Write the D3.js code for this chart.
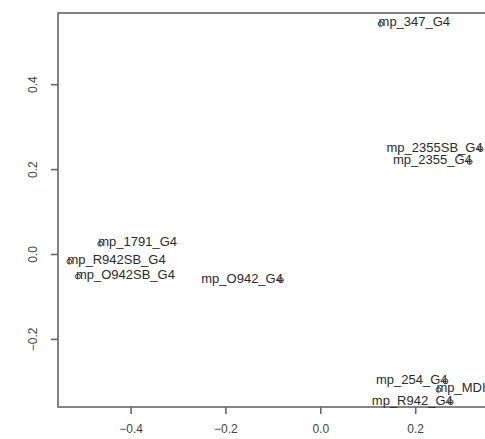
<!DOCTYPE html>
<html>
<head>
<meta charset="utf-8">
<script src="https://cdn.jsdelivr.net/npm/d3@7"></script>
<style>
  html, body { margin: 0; padding: 0; background: #fff; }
  svg { display: block; }
  text { font-family: "Liberation Sans", Arial, sans-serif; }
</style>
</head>
<body>
<script>
// Sample scores on the first two ordination axes
const samples = ["mp_347_G4", "mp_2355SB_G4", "mp_2355_G4", "mp_1791_G4", "mp_R942SB_G4",
                 "mp_O942SB_G4", "mp_O942_G4", "mp_254_G4", "mp_MDI_G4", "mp_R942_G4"];
const axis1 = [0.127, 0.338, 0.315, -0.464, -0.529, -0.511, -0.083, 0.264, 0.249, 0.275];
const axis2 = [0.542, 0.247, 0.217, 0.024, -0.018, -0.053, -0.062, -0.300, -0.320, -0.349];
// which side of its point each label sits on
const labelSide = ["right", "left", "left", "right", "right", "right", "left", "left", "right", "left"];

const xTicks = [-0.4, -0.2, 0.0, 0.2];
const yTicks = [-0.2, 0.0, 0.2, 0.4];
const xDomain = [-0.553, 0.402];
const yDomain = [-0.3604, 0.5677];

const W = 485, H = 439;
const plot = { left: 58, top: 13, bottom: 407, right: 511 };

const svg = d3.select("body").append("svg")
  .attr("width", W).attr("height", H);

const x = d3.scaleLinear().domain(xDomain).range([plot.left, plot.right]);
const y = d3.scaleLinear().domain(yDomain).range([plot.bottom, plot.top]);

const axisColor = "#666";

// plot frame
svg.append("rect")
  .attr("x", plot.left).attr("y", plot.top)
  .attr("width", plot.right - plot.left).attr("height", plot.bottom - plot.top)
  .attr("fill", "none").attr("stroke", axisColor).attr("stroke-width", 1.6);

// bottom axis
const fmt = d3.format(".1f");
const gx = svg.append("g")
  .attr("transform", `translate(0,${plot.bottom})`)
  .call(d3.axisBottom(x).tickValues(xTicks).tickFormat(fmt).tickSize(7).tickPadding(10));
gx.select(".domain").remove();
gx.selectAll(".tick line").attr("stroke", axisColor).attr("stroke-width", 1.6);
gx.selectAll(".tick text")
  .attr("font-size", 12).attr("fill", "#444")
  .attr("font-family", "Liberation Sans, Arial, sans-serif");

// left axis, labels rotated parallel to the axis
const gy = svg.append("g")
  .attr("transform", `translate(${plot.left},0)`)
  .call(d3.axisLeft(y).tickValues(yTicks).tickFormat(fmt).tickSize(7));
gy.select(".domain").remove();
gy.selectAll(".tick line").attr("stroke", axisColor).attr("stroke-width", 1.6);
gy.selectAll(".tick text")
  .attr("font-size", 12).attr("fill", "#444")
  .attr("font-family", "Liberation Sans, Arial, sans-serif")
  .attr("x", null).attr("dy", null)
  .attr("text-anchor", "middle")
  .attr("transform", "translate(-25,0) rotate(-90)")
  .attr("dy", "0.35em");

const data = samples.map((name, i) => ({ name, a1: axis1[i], a2: axis2[i], side: labelSide[i] }));

// sample points
svg.append("g").selectAll("circle")
  .data(data).join("circle")
  .attr("cx", d => x(d.a1)).attr("cy", d => y(d.a2))
  .attr("r", 2.4)
  .attr("fill", "none").attr("stroke", "#333").attr("stroke-width", 1);

// sample labels
svg.append("g").selectAll("text")
  .data(data).join("text")
  .attr("x", d => x(d.a1) + (d.side === "right" ? -2 : 2))
  .attr("y", d => y(d.a2) - 2)
  .attr("dy", "0.35em")
  .attr("text-anchor", d => d.side === "right" ? "start" : "end")
  .attr("font-size", 13)
  .attr("fill", "#2a2a2a")
  .text(d => d.name);
</script>
</body>
</html>
